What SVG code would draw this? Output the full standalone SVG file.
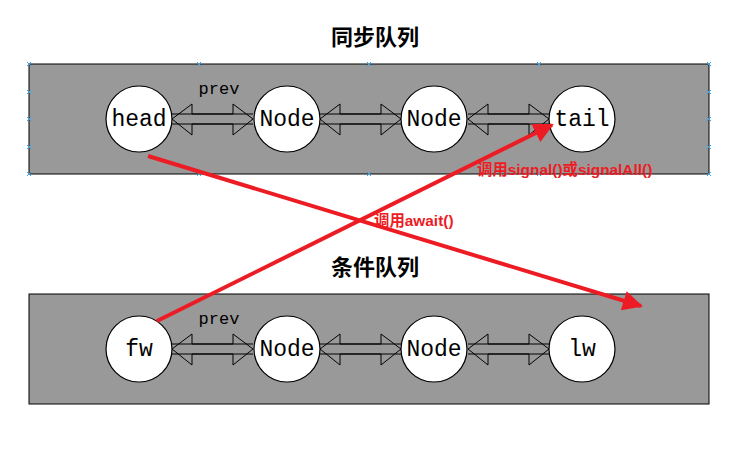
<svg xmlns="http://www.w3.org/2000/svg" width="754" height="450" viewBox="0 0 754 450">
<style>
.box{fill:#999999;stroke:#000;stroke-width:1}
.circ{fill:#fff;stroke:#000;stroke-width:1.2}
.lbl{font-family:"Liberation Mono","Courier New",monospace;font-size:23px;fill:#000;text-anchor:middle}
.prev{font-family:"Liberation Mono","Courier New",monospace;font-size:17px;fill:#000;text-anchor:middle}
.title{font-family:"Noto Sans CJK SC",sans-serif;font-weight:bold;font-size:22px;fill:#000;text-anchor:middle}
.red{stroke:#ED1C24;stroke-width:4;fill:none}
.rlbl{font-family:"Liberation Sans","Noto Sans CJK SC",sans-serif;font-weight:bold;font-size:15.4px;fill:#ED1C24}
.dbl{fill:#999999;stroke:#000;stroke-width:1}
.h{stroke:#3AA0E0;stroke-width:1}
</style>
<defs>
<marker id="ah" viewBox="0 0 10 10" refX="9" refY="5" markerWidth="6" markerHeight="5" orient="auto" markerUnits="strokeWidth">
<path d="M0,0 L10,5 L0,10 z" fill="#ED1C24"/>
</marker>
<g id="da">
<polygon class="dbl" points="0,0 20,-15 20,-5 61,-5 61,-15 81,0 61,16 61,5 20,5 20,16"/>
<line x1="0" y1="-5" x2="81" y2="-5" stroke="#000"/>
<line x1="0" y1="5" x2="81" y2="5" stroke="#000"/>
</g>
<path id="hx" d="M-2,-2 L2,2 M-2,2 L2,-2"/>
</defs>

<text class="title" x="375" y="45">同步队列</text>
<text class="title" x="375" y="275">条件队列</text>

<g id="sync-queue">
<rect class="box" x="29" y="64" width="680" height="110"/>
</g>
<g id="cond-queue">
<rect class="box" x="29" y="294" width="680" height="110"/>
</g>

<g id="handles" class="h" fill="none" stroke="#3AA0E0">
<use href="#hx" x="29" y="64"/><use href="#hx" x="199" y="64"/><use href="#hx" x="369" y="64"/><use href="#hx" x="539" y="64"/><use href="#hx" x="709" y="64"/>
<use href="#hx" x="29" y="174"/><use href="#hx" x="199" y="174"/><use href="#hx" x="369" y="174"/><use href="#hx" x="539" y="174"/><use href="#hx" x="709" y="174"/>
<use href="#hx" x="29" y="92"/><use href="#hx" x="29" y="119"/><use href="#hx" x="29" y="147"/>
<use href="#hx" x="709" y="92"/><use href="#hx" x="709" y="119"/><use href="#hx" x="709" y="147"/>
</g>

<g id="links">
<use href="#da" x="172" y="119"/>
<use href="#da" x="320" y="119"/>
<use href="#da" x="468" y="119"/>
<use href="#da" x="172" y="349"/>
<use href="#da" x="320" y="349"/>
<use href="#da" x="468" y="349"/>
<text class="prev" x="219" y="94">prev</text>
<text class="prev" x="219" y="324">prev</text>
</g>

<g id="head"><circle class="circ" cx="139" cy="119" r="33"/><text class="lbl" x="139" y="126">head</text></g>
<g id="node1"><circle class="circ" cx="287" cy="119" r="33"/><text class="lbl" x="287" y="126">Node</text></g>
<g id="node2"><circle class="circ" cx="434" cy="119" r="33"/><text class="lbl" x="434" y="126">Node</text></g>
<g id="tail"><circle class="circ" cx="582" cy="119" r="33"/><text class="lbl" x="582" y="126">tail</text></g>

<g id="fw"><circle class="circ" cx="139" cy="349" r="33"/><text class="lbl" x="139" y="356">fw</text></g>
<g id="node3"><circle class="circ" cx="287" cy="349" r="33"/><text class="lbl" x="287" y="356">Node</text></g>
<g id="node4"><circle class="circ" cx="434" cy="349" r="33"/><text class="lbl" x="434" y="356">Node</text></g>
<g id="lw"><circle class="circ" cx="582" cy="349" r="33"/><text class="lbl" x="582" y="356">lw</text></g>

<g id="connectors">
<line class="red" x1="148" y1="156" x2="641" y2="306" marker-end="url(#ah)"/>
<line class="red" x1="157" y1="321" x2="552" y2="125" marker-end="url(#ah)"/>
<text class="rlbl" x="477" y="175">调用signal()或signalAll()</text>
<text class="rlbl" x="374" y="226">调用await()</text>
</g>
</svg>
